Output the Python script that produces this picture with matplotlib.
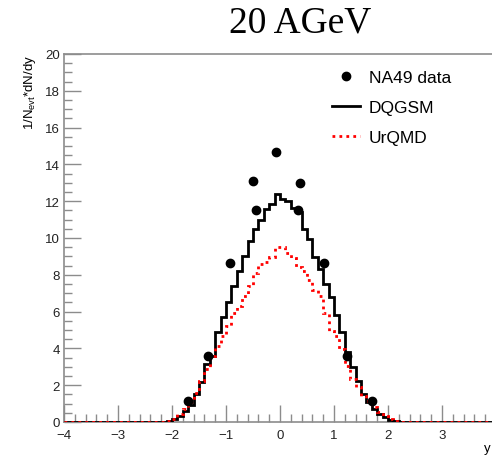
import numpy as np
import matplotlib
matplotlib.use("Agg")
from matplotlib import pyplot as plt
from matplotlib.ticker import MultipleLocator

plt.rcParams["font.family"] = ["Liberation Sans", "DejaVu Sans"]
plt.rcParams["mathtext.fontset"] = "custom"
plt.rcParams["mathtext.rm"] = "Liberation Sans"

# binning of the histograms (rapidity y, 80 bins of 0.1)
bin_lo = -4.0
bin_hi = 4.0
n_bins = 80

# DQGSM histogram, 1/Nevt dN/dy
dqgsm = [0, 0, 0, 0, 0, 0, 0, 0, 0, 0,
         0, 0, 0, 0, 0, 0, 0, 0, 0.0, 0.05,
         0.15, 0.3, 0.6, 0.95, 1.5, 2.2, 3.15, 3.6, 4.9, 5.7,
         6.5, 7.4, 8.2, 9.0, 9.85, 10.5, 11.0, 11.6, 11.85, 12.4,
         12.1, 12.0, 11.65, 11.4, 10.5, 9.95, 8.95, 8.3, 7.5, 6.8,
         5.8, 4.9, 3.8, 3.0, 2.25, 1.5, 1.07, 0.7, 0.43, 0.25,
         0.1, 0.03, 0, 0, 0, 0, 0, 0, 0, 0,
         0, 0, 0, 0, 0, 0, 0, 0, 0, 0]

# UrQMD histogram
urqmd = [0, 0, 0, 0, 0, 0, 0, 0, 0, 0,
         0, 0, 0, 0, 0, 0, 0, 0, 0.0, 0.05,
         0.16, 0.43, 0.7, 1.07, 1.6, 2.25, 2.9, 3.6, 4.15, 4.7,
         5.2, 5.9, 6.3, 6.85, 7.4, 8.1, 8.6, 8.7, 8.95, 9.5,
         9.5, 9.2, 8.9, 8.45, 8.2, 7.7, 7.15, 6.85, 5.9, 4.95,
         4.7, 3.95, 3.05, 2.35, 1.9, 1.43, 1.16, 0.8, 0.53, 0.3,
         0.16, 0.05, 0, 0, 0, 0, 0, 0, 0, 0,
         0, 0, 0, 0, 0, 0, 0, 0, 0, 0]

# NA49 data points
na49_y = [-1.71, -1.34, -0.92, -0.49, -0.44, -0.07, 0.33, 0.37, 0.81, 1.25, 1.70]
na49_val = [1.15, 3.6, 8.65, 13.1, 11.5, 14.7, 11.5, 13.0, 8.65, 3.6, 1.15]

x_ticks = [-4, -3, -2, -1, 0, 1, 2, 3]

edges = np.linspace(bin_lo, bin_hi, n_bins + 1)

fig = plt.figure(figsize=(4.92, 4.56), dpi=100)
ax = fig.add_axes([0.130, 0.0724, 0.878, 0.807])

ax.stairs(dqgsm, edges, color="black", linewidth=2, label="DQGSM", zorder=3)
ax.stairs(urqmd, edges, color="#ff0000", linewidth=2, linestyle=(0, (1, 1.5)),
          label="UrQMD", zorder=4)
ax.plot(na49_y, na49_val, "o", color="black", markersize=6, linestyle="none",
        label="NA49 data", zorder=5)

ax.set_xlim(-4, 4)
ax.set_ylim(0, 20)

gray = "#8c8c8c"
for side in ["left", "bottom", "top", "right"]:
    ax.spines[side].set_color(gray)
    ax.spines[side].set_linewidth(1.2)

ax.set_xticks(x_ticks)
ax.set_xticklabels([str(t).replace("-", "\u2212") for t in x_ticks])
ax.xaxis.set_minor_locator(MultipleLocator(0.2))
ax.yaxis.set_major_locator(MultipleLocator(2))
ax.yaxis.set_minor_locator(MultipleLocator(0.5))
ax.tick_params(which="both", direction="in", color=gray, width=1,
               labelsize=9.5, labelcolor="#222222")
ax.tick_params(which="major", length=12)
ax.tick_params(which="minor", length=6)
ax.tick_params(axis="x", pad=5)
ax.tick_params(axis="y", pad=3)

ax.set_ylabel(r"1/N$_{\mathregular{evt}}$*dN/dy", fontsize=9.5, loc="top")
ax.yaxis.set_label_coords(-0.06, 1.0)
ax.text(3.9, -1.4, "y", ha="right", va="center", fontsize=9.5)

handles, labels = ax.get_legend_handles_labels()
order = [2, 0, 1]
ax.legend([handles[i] for i in order], [labels[i] for i in order],
          frameon=False, loc="upper left", bbox_to_anchor=(0.585, 1.0),
          fontsize=12.5, handlelength=1.6, handletextpad=0.5, labelspacing=0.85)

fig.text(0.61, 0.948, "20 AGeV", ha="center", va="center",
         fontsize=27, family="Liberation Serif")

fig.savefig("out.png", dpi=100)
